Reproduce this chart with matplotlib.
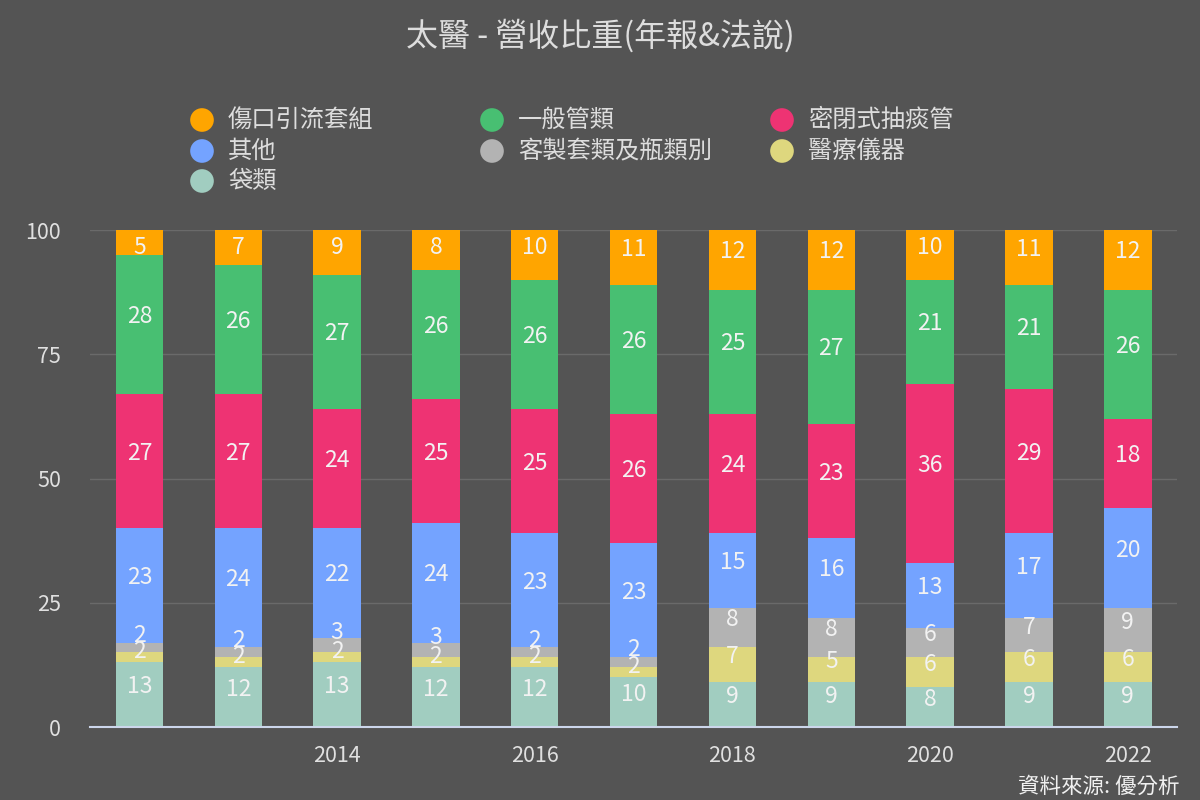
import matplotlib
matplotlib.use("Agg")
import matplotlib.pyplot as plt
import numpy as np

plt.rcParams['font.family'] = ['Noto Sans CJK TC', 'DejaVu Sans']

years = [2012, 2013, 2014, 2015, 2016, 2017, 2018, 2019, 2020, 2021, 2022]
tick_years = [2014, 2016, 2018, 2020, 2022]

# bottom to top
bags      = [13, 12, 13, 12, 12, 10, 9, 9, 8, 9, 9]      # 袋類
devices   = [2, 2, 2, 2, 2, 2, 7, 5, 6, 6, 6]             # 醫療儀器
custom    = [2, 2, 3, 3, 2, 2, 8, 8, 6, 7, 9]             # 客製套類及瓶類別
others    = [23, 24, 22, 24, 23, 23, 15, 16, 13, 17, 20]  # 其他
suction   = [27, 27, 24, 25, 25, 26, 24, 23, 36, 29, 18]  # 密閉式抽痰管
tubes     = [28, 26, 27, 26, 26, 26, 25, 27, 21, 21, 26]  # 一般管類
drainage  = [5, 7, 9, 8, 10, 11, 12, 12, 10, 11, 12]      # 傷口引流套組

series = [
    ("袋類", bags, "#a1cdc0"),
    ("醫療儀器", devices, "#ded77e"),
    ("客製套類及瓶類別", custom, "#b3b3b3"),
    ("其他", others, "#74a3ff"),
    ("密閉式抽痰管", suction, "#ee3373"),
    ("一般管類", tubes, "#48bf72"),
    ("傷口引流套組", drainage, "#ffa500"),
]
legend_order = ["傷口引流套組", "一般管類", "密閉式抽痰管",
                "其他", "客製套類及瓶類別", "醫療儀器", "袋類"]

BG = "#545454"
TXT = "#e0e0e0"

fig = plt.figure(figsize=(12, 8), dpi=100, facecolor=BG)
ax = fig.add_axes([0.075, 0.09125, 0.906, 0.62125], facecolor=BG)

x = np.arange(len(years))
bottom = np.zeros(len(years))
for si, (name, vals, col) in enumerate(series):
    v = np.array(vals, dtype=float)
    ax.bar(x, v, bottom=bottom, width=0.48, color=col, edgecolor='none', zorder=3)
    for xi, b, vi in zip(x, bottom, v):
        yl = b + vi / 2 + 1.6
        if vi < 4:
            # nudge tiny neighbouring labels apart a little
            yl += 0.9 if si == 2 else -0.5
        yl = min(yl, 96.4)
        ax.text(xi, yl, f"{int(round(vi))}", ha='center', va='center',
                fontsize=16.5, color="#f2f2f2", zorder=5)
    bottom += v

ax.set_xlim(-0.5, len(years) - 0.5)
ax.set_ylim(0, 100)
ax.set_yticks([0, 25, 50, 75, 100])
ax.set_yticklabels(["0", "25", "50", "75", "100"])
ax.set_xticks([years.index(y) for y in tick_years])
ax.set_xticklabels([str(y) for y in tick_years])
ax.tick_params(axis='both', length=0, colors=TXT, labelsize=15.5)
ax.tick_params(axis='y', pad=21)
ax.tick_params(axis='x', pad=13)
for sp in ['top', 'right', 'left']:
    ax.spines[sp].set_visible(False)
ax.spines['bottom'].set_color("#ccd6eb")
ax.spines['bottom'].set_linewidth(1.5)
ax.spines['bottom'].set_zorder(6)
for yv in [25, 50, 75, 100]:
    ax.axhline(yv, color="#6a6a6a", linewidth=1, zorder=1)

# title
fig.text(0.5, 1 - 36 / 800, "太醫 - 營收比重(年報&法說)", ha='center', va='center',
         fontsize=23, color="#dddddd")

# legend (manual, row-major)
lax = fig.add_axes([0, 0, 1, 1], facecolor='none')
lax.set_xlim(0, 1200)
lax.set_ylim(800, 0)
lax.axis('off')
colmap = {n: c for n, _, c in series}
col_x = [202, 492, 782]
row_y = [120, 151, 181]
for i, name in enumerate(legend_order):
    r, c = divmod(i, 3)
    lax.scatter([col_x[c]], [row_y[r]], s=290, color=colmap[name], edgecolor='none')
    lax.text(col_x[c] + 26, row_y[r], name, ha='left', va='center',
             fontsize=17.5, color="#dddddd")

fig.text(1180 / 1200, 1 - 787 / 800, "資料來源: 優分析", ha='right', va='center',
         fontsize=15.5, color="#f0f0f0")

fig.savefig("out.png", dpi=100, facecolor=BG)
